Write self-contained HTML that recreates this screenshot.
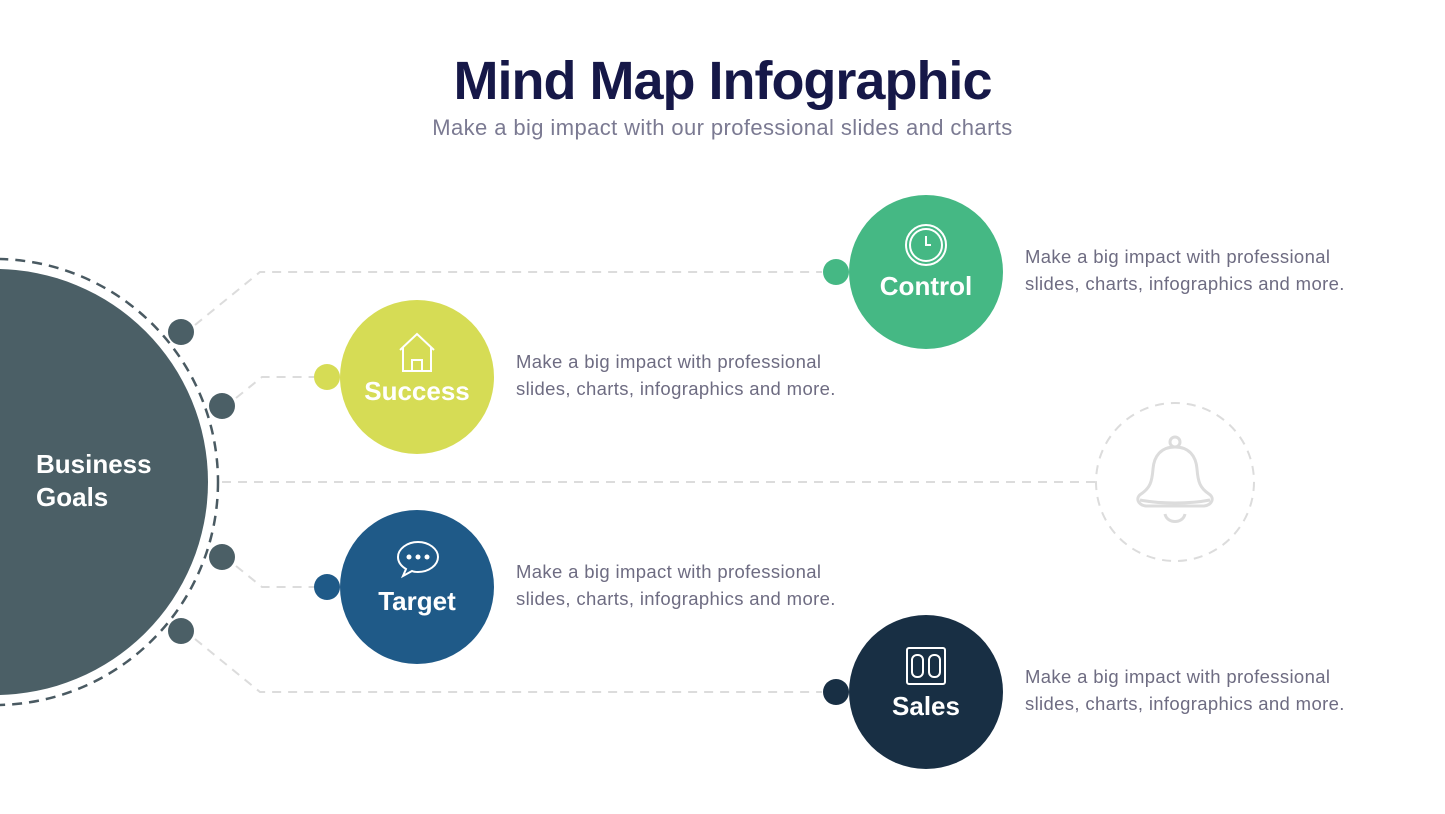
<!DOCTYPE html>
<html><head><style>
body{margin:0;width:1445px;height:814px;background:#fff;overflow:hidden;font-family:"Liberation Sans",sans-serif;position:relative}
.t{position:absolute;white-space:nowrap}
.d{font-size:18.5px;color:#6e6c82;line-height:27px;letter-spacing:0.35px}
</style></head><body>
<div class="t" style="left:0;width:1445px;text-align:center;top:50px;font-size:54px;font-weight:bold;color:#161848;letter-spacing:-1px">Mind Map Infographic</div>
<div class="t" style="left:0;width:1445px;text-align:center;top:115px;font-size:22px;color:#7b7a92;letter-spacing:0.4px">Make a big impact with our professional slides and charts</div>
<svg width="1445" height="814" style="position:absolute;left:0;top:0">
<g fill="none" stroke="#dcdcdc" stroke-width="2" stroke-dasharray="9 7">
<polyline points="195,325 260,272 822,272"/>
<polyline points="236,398 262,377 314,377"/>
<line x1="222" y1="482" x2="1096" y2="482"/>
<polyline points="236,566 262,587 314,587"/>
<polyline points="195,639 260,692 822,692"/>
<circle cx="1175" cy="482" r="79"/>
</g>
<circle cx="-5" cy="482" r="223" fill="none" stroke="#4a5a62" stroke-width="2.5" stroke-dasharray="10 7"/>
<circle cx="-5" cy="482" r="213" fill="#4b5f66"/>
<g fill="#4b5f66"><circle cx="181" cy="332" r="13"/><circle cx="222" cy="406" r="13"/><circle cx="222" cy="557" r="13"/><circle cx="181" cy="631" r="13"/></g>
<circle cx="836" cy="272" r="13" fill="#45b884"/><circle cx="926" cy="272" r="77" fill="#45b884"/>
<circle cx="327" cy="377" r="13" fill="#d6dc55"/><circle cx="417" cy="377" r="77" fill="#d6dc55"/>
<circle cx="327" cy="587" r="13" fill="#1f5a88"/><circle cx="417" cy="587" r="77" fill="#1f5a88"/>
<circle cx="836" cy="692" r="13" fill="#182f44"/><circle cx="926" cy="692" r="77" fill="#182f44"/>
<g fill="none" stroke="#fff" stroke-width="2">
<circle cx="926" cy="245" r="20"/><circle cx="926" cy="245" r="16"/><path d="M926 236v9h5"/>
<path d="M400 350l17-16 17 16M403 347v24h28v-24M412 371v-11h10v11"/>
<path d="M418 542c-11 0-20 7-20 15 0 5 3 9 8 12l-3 7 9-5c2 1 4 1 6 1 11 0 20-7 20-15s-9-15-20-15z"/>
<rect x="907" y="648" width="38" height="36" rx="2"/><rect x="912" y="655" width="11" height="22" rx="5"/><rect x="929" y="655" width="11" height="22" rx="5"/>
</g>
<g fill="#fff"><circle cx="409" cy="557" r="2.5"/><circle cx="418" cy="557" r="2.5"/><circle cx="427" cy="557" r="2.5"/></g>
<g fill="none" stroke="#dcdcdc" stroke-width="3" stroke-linejoin="round">
<circle cx="1175" cy="442" r="5"/>
<path d="M1175 447c-14 0-21 9-22 22-1 13-3 19-12 25-6 4-3 11 5 12h58c8-1 11-8 5-12-9-6-11-12-12-25-1-13-8-22-22-22z"/>
<path d="M1140 500c20 4 50 4 70 0"/>
<path d="M1165 514c2 10 18 10 20 0"/>
</g>
</svg>
<div class="t" style="left:36px;top:448px;font-size:26px;font-weight:bold;color:#fff;line-height:33px">Business<br>Goals</div>
<div class="t" style="left:849px;width:154px;text-align:center;top:271px;font-size:26px;font-weight:bold;color:#fff">Control</div>
<div class="t" style="left:340px;width:154px;text-align:center;top:376px;font-size:26px;font-weight:bold;color:#fff">Success</div>
<div class="t" style="left:340px;width:154px;text-align:center;top:586px;font-size:26px;font-weight:bold;color:#fff">Target</div>
<div class="t" style="left:849px;width:154px;text-align:center;top:691px;font-size:26px;font-weight:bold;color:#fff">Sales</div>
<div class="t d" style="left:1025px;top:243px">Make a big impact with professional<br>slides, charts, infographics and more.</div>
<div class="t d" style="left:516px;top:348px">Make a big impact with professional<br>slides, charts, infographics and more.</div>
<div class="t d" style="left:516px;top:558px">Make a big impact with professional<br>slides, charts, infographics and more.</div>
<div class="t d" style="left:1025px;top:663px">Make a big impact with professional<br>slides, charts, infographics and more.</div>
</body></html>
